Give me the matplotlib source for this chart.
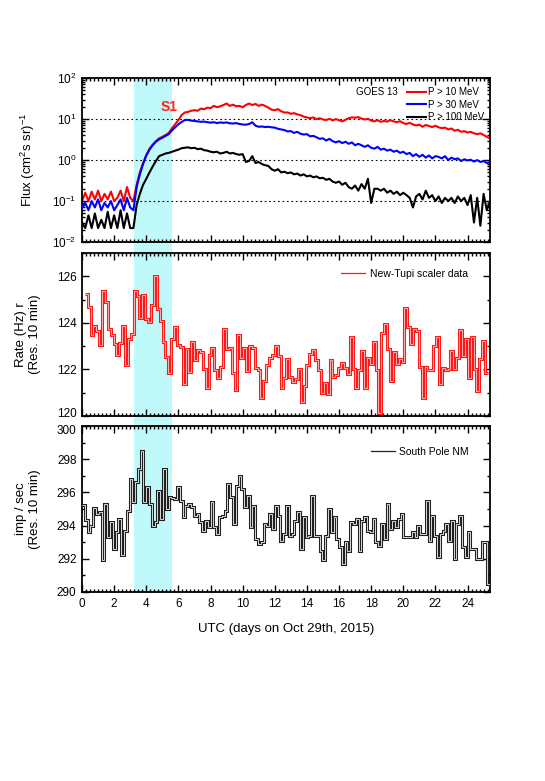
import numpy as np
import matplotlib
matplotlib.use("Agg")
import matplotlib.pyplot as plt
import matplotlib.patheffects as pe
import matplotlib.transforms as mtransforms
from matplotlib.patches import Rectangle
from matplotlib.ticker import MultipleLocator, LogLocator, NullFormatter

plt.rcParams['font.family'] = ['Liberation Sans', 'DejaVu Sans']
plt.rcParams['mathtext.fontset'] = 'custom'
plt.rcParams['mathtext.rm'] = 'Liberation Sans'
plt.rcParams['mathtext.it'] = 'Liberation Sans:italic'
plt.rcParams['axes.unicode_minus'] = False

goes_dt = 0.2
p10 = [0.10, 0.16, 0.10, 0.17, 0.11, 0.18, 0.10, 0.15, 0.11, 0.17, 0.10, 0.12, 0.18, 0.10, 0.22, 0.12,
       0.10, 0.25, 0.5, 0.85, 1.3, 1.9, 2.4, 2.9, 3.4, 3.7, 4.1, 4.6, 6.0, 7.5,
       9.5, 12.5, 14.5, 15.0, 16.0, 16.5, 16.0, 18.0, 17.5, 19.0,
       18.5, 21, 19.5, 20.5, 22, 24, 21, 22.5, 20.5, 21,
       19.5, 22, 24, 22, 23.5, 21, 22.5, 21, 19, 17,
       16.5, 17.5, 15.5, 14.5, 14.5, 13.5, 14, 13, 12.5, 11.5,
       11, 10.5, 11, 10, 10.5, 9.8, 9.5, 10.2, 9.3, 10,
       9.4, 8.8, 9.6, 10.5, 11, 10.8, 11.2, 10.3, 9.8, 10.2,
       9.2, 8.8, 9.4, 8.6, 9.0, 8.7, 9.4, 8.8, 8.4, 8.9,
       8.0, 7.6, 8.1, 7.4, 7.0, 7.3, 6.5, 7.2, 6.8, 6.4,
       6.9, 6.3, 6.0, 6.2, 5.6, 5.9, 5.2, 5.5, 4.9, 5.1,
       4.7, 4.9, 4.5, 4.3, 4.5, 4.1, 3.7, 3.4]
p30 = [0.07, 0.09, 0.06, 0.10, 0.07, 0.11, 0.06, 0.09, 0.07, 0.10, 0.06, 0.08, 0.11, 0.06, 0.12, 0.07,
       0.06, 0.22, 0.45, 0.8, 1.3, 1.8, 2.3, 2.8, 3.2, 3.5, 3.9, 4.3, 5.3, 6.3,
       7.5, 8.5, 9.5, 9.6, 9.2, 9.0, 8.8, 8.6, 8.7, 8.4,
       8.2, 8.4, 8.0, 8.3, 8.1, 8.3, 7.9, 7.8, 8.0, 7.6,
       7.4, 7.3, 7.6, 8.4, 6.9, 6.5, 6.6, 6.4, 6.5, 6.3,
       6.2, 5.8, 5.6, 5.4, 5.0, 5.1, 4.6, 4.9, 4.4, 4.2,
       4.3, 3.8, 3.9, 3.6, 3.3, 3.4, 3.0, 3.3, 2.9, 2.7,
       2.9, 2.6, 2.8, 2.5, 2.7, 2.3, 2.5, 2.3, 2.1, 2.3,
       2.0, 1.9, 2.1, 1.8, 1.9, 1.7, 1.8, 1.6, 1.7, 1.5,
       1.6, 1.4, 1.5, 1.25, 1.4, 1.2, 1.35, 1.15, 1.3, 1.1,
       1.25, 1.2, 1.1, 1.25, 1.0, 1.15, 1.05, 1.1, 0.95, 1.05,
       0.98, 1.02, 0.92, 1.0, 0.9, 0.95, 0.85, 0.88]
p100 = [0.03, 0.022, 0.045, 0.022, 0.05, 0.022, 0.035, 0.022, 0.055, 0.022, 0.045, 0.022, 0.06, 0.022, 0.05, 0.022,
        0.022, 0.08, 0.15, 0.25, 0.35, 0.5, 0.7, 0.95, 1.25, 1.35, 1.45, 1.5, 1.6, 1.7,
        1.8, 1.95, 2.0, 2.05, 1.95, 2.0, 1.85, 1.9, 1.75, 1.7,
        1.6, 1.55, 1.6, 1.45, 1.5, 1.6, 1.45, 1.5, 1.4, 1.35,
        1.4, 0.9, 0.95, 1.25, 0.85, 0.9, 0.8, 0.75, 0.72, 0.6,
        0.55, 0.6, 0.5, 0.52, 0.48, 0.5, 0.45, 0.47, 0.42, 0.45,
        0.4, 0.42, 0.38, 0.4, 0.36, 0.37, 0.33, 0.35, 0.3, 0.28,
        0.3, 0.25, 0.28, 0.22, 0.2, 0.24, 0.18, 0.26, 0.2, 0.35,
        0.09, 0.2, 0.2, 0.18, 0.2, 0.16, 0.18, 0.15, 0.17, 0.14,
        0.16, 0.14, 0.12, 0.07, 0.13, 0.15, 0.11, 0.18, 0.12, 0.14,
        0.1, 0.13, 0.09, 0.12, 0.1, 0.12, 0.09, 0.13, 0.1, 0.12,
        0.08, 0.14, 0.03, 0.12, 0.025, 0.15, 0.06, 0.1]

# New-Tupi scaler rate (Hz), 10-min bins
tupi_start, tupi_end = 0.17, 25.27
tupi = [125.23, 124.68, 123.5, 123.88, 123.65, 123.04, 125.36, 124.89, 123.75, 123.5,
        123.08, 122.64, 123.15, 123.85, 122.18, 123.32, 123.54, 125.36, 125.16, 124.21,
        125.19, 124.15, 124.04, 124.78, 126.02, 124.6, 124.07, 123.18, 122.55, 121.86,
        123.3, 123.83, 123.05, 122.97, 121.36, 122.88, 121.89, 123.18, 122.39, 122.82,
        122.75, 122.0, 121.19, 122.61, 122.92, 121.99, 121.63, 122.1, 123.72, 122.87,
        122.92, 121.85, 121.13, 123.48, 122.48, 122.92, 121.92, 123.02, 122.94, 122.06,
        121.96, 120.76, 121.5, 122.18, 122.48, 122.64, 123.0, 122.58, 121.2, 121.62,
        122.45, 121.68, 121.46, 121.6, 122.03, 120.62, 121.3, 122.18, 122.68, 122.82,
        122.39, 121.98, 121.0, 121.43, 120.96, 122.42, 121.68, 121.78, 122.06, 122.28,
        122.06, 121.82, 123.4, 122.03, 121.2, 121.96, 122.78, 121.19, 122.49, 122.22,
        123.17, 121.99, 120.14, 123.55, 123.94, 122.88, 121.5, 122.75, 122.22, 122.44,
        122.32, 124.66, 123.83, 123.11, 123.75, 123.67, 122.09, 120.77, 122.1, 121.98,
        121.98, 123.0, 123.38, 121.36, 122.06, 121.99, 122.0, 122.81, 122.0, 122.51,
        123.71, 122.56, 123.3, 121.63, 123.41, 122.03, 121.07, 122.44, 123.21, 121.86]

# South Pole neutron monitor (imp/sec), 10-min bins
spnm_start, spnm_end = 0.0, 25.4
spnm = [295.25, 294.34, 293.62, 294.0, 295.05, 294.7, 294.8, 291.9, 295.3, 293.3,
        294.2, 292.6, 293.6, 294.4, 292.2, 293.7, 294.9, 296.8, 295.4, 296.6,
        297.4, 298.5, 295.4, 296.3, 295.3, 294.0, 294.2, 296.1, 294.4, 297.4,
        295.0, 295.7, 295.65, 295.6, 296.3, 295.5, 294.5, 295.2, 295.3, 295.1,
        294.6, 294.7, 294.2, 293.7, 294.3, 293.9, 295.4, 293.9, 293.5, 294.5,
        294.6, 294.9, 296.5, 295.7, 294.1, 296.4, 297.0, 296.2, 295.1, 295.8,
        293.9, 295.2, 293.2, 292.9, 293.0, 294.1, 294.0, 294.7, 293.8, 295.2,
        294.6, 293.1, 293.5, 295.2, 293.4, 293.5, 294.3, 294.8, 292.6, 294.5,
        293.3, 293.4, 295.8, 293.4, 293.4, 292.5, 291.9, 293.4, 295.0, 293.6,
        294.5, 293.2, 292.7, 291.7, 293.0, 292.5, 294.2, 294.1, 294.4, 292.5,
        294.3, 294.5, 293.7, 293.6, 294.4, 293.0, 292.8, 294.1, 293.2, 295.3,
        293.8, 294.3, 293.9, 294.4, 294.7, 293.3, 293.3, 293.3, 293.6, 293.3,
        294.0, 293.5, 293.5, 295.5, 293.1, 294.6, 293.4, 292.1, 293.5, 293.7,
        294.1, 293.1, 294.3, 292.0, 294.1, 294.6, 292.7, 292.1, 293.6, 292.6,
        292.6, 292.0, 292.0, 293.0, 293.0, 290.5]

band = (3.25, 5.6)
xmax = 25.4

fig = plt.figure(figsize=(5.45, 7.81), dpi=100)
ax1 = fig.add_axes([0.1505, 0.690, 0.7486, 0.210])
ax2 = fig.add_axes([0.1505, 0.4673, 0.7486, 0.2087])
ax3 = fig.add_axes([0.1505, 0.2420, 0.7486, 0.2125])
axes = [ax1, ax2, ax3]


def style(ax):
    ax.set_facecolor('none')
    ax.set_xlim(0, xmax)
    ax.xaxis.set_major_locator(MultipleLocator(2))
    ax.xaxis.set_minor_locator(MultipleLocator(0.25))
    ax.tick_params(which='both', direction='in', top=True, right=True,
                   labelsize=8.5, width=1.0, pad=4)
    ax.tick_params(which='major', length=5)
    ax.tick_params(which='minor', length=2.5)
    for s in ax.spines.values():
        s.set_linewidth(1.3)


for ax in axes:
    style(ax)

# cyan band across all three panels (and the gaps between them)
trans = mtransforms.blended_transform_factory(ax3.transData, fig.transFigure)
y0 = 0.2420
y1 = 0.690 + 0.210
fig.patches.append(Rectangle((band[0], y0), band[1] - band[0], y1 - y0,
                             transform=trans, facecolor='#bff9f9',
                             edgecolor='none', zorder=-1))

# top panel: GOES fluxes
t_goes = np.arange(len(p10)) * goes_dt
ax1.set_yscale('log')
ax1.set_ylim(1e-2, 1e2)
for lev in [1e-1, 1e0, 1e1]:
    ax1.axhline(lev, color='black', lw=0.8, ls=(0, (1.5, 2.5)), zorder=1)
ax1.plot(t_goes, p100, color='black', lw=1.5, label='P > 100 MeV', zorder=3)
ax1.plot(t_goes, p30, color='#0000ff', lw=1.5, label='P > 30 MeV', zorder=4)
ax1.plot(t_goes, p10, color='#ff0000', lw=1.5, label='P > 10 MeV', zorder=2)
ax1.yaxis.set_major_locator(LogLocator(base=10, numticks=10))
ax1.yaxis.set_minor_locator(LogLocator(base=10, subs=np.arange(2, 10), numticks=10))
ax1.yaxis.set_minor_formatter(NullFormatter())
ax1.set_xticklabels([])
ax1.set_ylabel('Flux (cm$^2$s sr)$^{-1}$', fontsize=9.5)
ax1.yaxis.set_label_coords(-0.11, 0.5)
h, l = ax1.get_legend_handles_labels()
ax1.legend(h[::-1], l[::-1], loc='upper right', bbox_to_anchor=(1.0, 0.98),
           frameon=False, fontsize=7, handlelength=2.0, handletextpad=0.15,
           labelspacing=0.25, borderaxespad=0.2)
ax1.text(0.672, 0.915, 'GOES 13', transform=ax1.transAxes, fontsize=7,
         va='center', ha='left')
ax1.text(5.45, 20, 'S1', color='#ff2020', fontsize=10, fontweight='bold',
         ha='center', va='center')

# middle panel: New-Tupi
edges_t = np.linspace(tupi_start, tupi_end, len(tupi) + 1)
ax2.stairs(tupi, edges_t, baseline=None, color='#ff1a1a', lw=0.9,
           label='New-Tupi scaler data',
           path_effects=[pe.Stroke(linewidth=2.2, foreground='#ff1a1a'),
                         pe.Stroke(linewidth=0.7, foreground='#ffb0b0')], zorder=3)
ax2.set_ylim(120, 127)
ax2.yaxis.set_major_locator(MultipleLocator(2))
ax2.yaxis.set_minor_locator(MultipleLocator(1))
ax2.set_xticklabels([])
ax2.set_ylabel('Rate (Hz) r\n(Res. 10 min)', fontsize=9.5, linespacing=1.3)
ax2.yaxis.set_label_coords(-0.10, 0.5)
ax2.legend(loc='upper right', bbox_to_anchor=(0.97, 0.96), frameon=False,
           fontsize=7.5, handlelength=2.3, handletextpad=0.5)

# bottom panel: South Pole NM
edges_s = np.linspace(spnm_start, spnm_end, len(spnm) + 1)
ax3.stairs(spnm, edges_s, baseline=None, color='#222222', lw=0.9,
           label='South Pole NM',
           path_effects=[pe.Stroke(linewidth=2.2, foreground='#222222'),
                         pe.Stroke(linewidth=0.7, foreground='#d8d8d8')], zorder=3)
ax3.set_ylim(290, 300)
ax3.yaxis.set_major_locator(MultipleLocator(2))
ax3.yaxis.set_minor_locator(MultipleLocator(1))
ax3.set_ylabel('imp / sec\n(Res. 10 min)', fontsize=9.5, linespacing=1.3)
ax3.yaxis.set_label_coords(-0.10, 0.5)
ax3.set_xlabel('UTC (days on Oct 29th, 2015)', fontsize=9.5, labelpad=10)
ax3.legend(loc='upper right', bbox_to_anchor=(0.97, 0.93), frameon=False,
           fontsize=7.5, handlelength=2.3, handletextpad=0.4)

# nudge the two tick labels that meet in the gap between the lower panels
fig.canvas.draw()
for lab in ax2.get_yticklabels():
    if lab.get_text() == '120':
        lab.set_transform(lab.get_transform() +
                          mtransforms.ScaledTranslation(0, 2.5 / 72, fig.dpi_scale_trans))
for lab in ax3.get_yticklabels():
    if lab.get_text() == '300':
        lab.set_transform(lab.get_transform() +
                          mtransforms.ScaledTranslation(0, -2.5 / 72, fig.dpi_scale_trans))

fig.savefig('out.png', dpi=100)
